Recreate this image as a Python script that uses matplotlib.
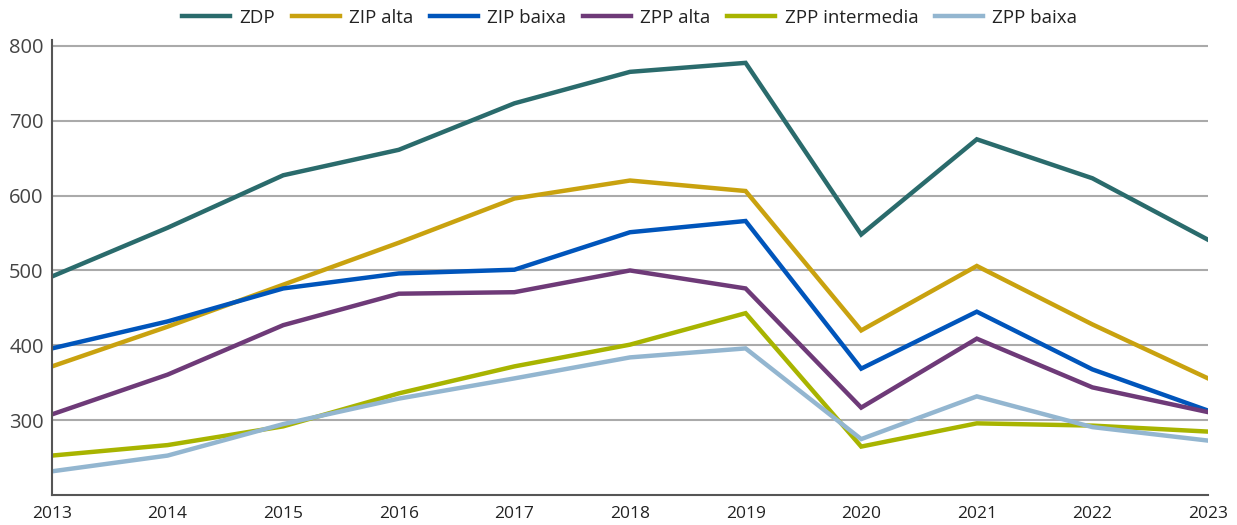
import matplotlib
matplotlib.use("Agg")
import matplotlib.pyplot as plt

years = [2013, 2014, 2015, 2016, 2017, 2018, 2019, 2020, 2021, 2022, 2023]
zdp = [492, 557, 627, 661, 723, 765, 777, 548, 675, 623, 541]
zip_alta = [372, 425, 481, 537, 596, 620, 606, 420, 506, 428, 356]
zip_baixa = [396, 432, 476, 496, 501, 551, 566, 369, 445, 368, 313]
zpp_alta = [308, 361, 427, 469, 471, 500, 476, 317, 409, 344, 311]
zpp_intermedia = [253, 267, 292, 336, 372, 401, 443, 265, 296, 293, 285]
zpp_baixa = [232, 253, 295, 329, 356, 384, 396, 275, 332, 291, 273]

labels = ["ZDP", "ZIP alta", "ZIP baixa", "ZPP alta", "ZPP intermedia", "ZPP baixa"]
series = [zdp, zip_alta, zip_baixa, zpp_alta, zpp_intermedia, zpp_baixa]
colors = ["#2a6b6c", "#c9a20f", "#0055bb", "#6e3a78", "#a8b400", "#93b6d0"]

plt.rcParams['font.family'] = ['Open Sans', 'DejaVu Sans']

fig = plt.figure(figsize=(12.37, 5.25), dpi=100)
ax = fig.add_axes([52/1237, (525-495.3)/525, (1208-52)/1237, (495.3-40)/525])

for lab, s, c in zip(labels, series, colors):
    ax.plot(years, s, color=c, lw=3.2, label=lab, solid_joinstyle='miter')

ax.set_xlim(2013, 2023)
ax.set_ylim(200, 807.5)
ax.set_yticks([300, 400, 500, 600, 700, 800])
ax.set_xticks(years)
ax.grid(axis='y', color='#aaaaaa', lw=1.5)
ax.set_axisbelow(True)
for sp in ['top', 'right']:
    ax.spines[sp].set_visible(False)
for sp in ['left', 'bottom']:
    ax.spines[sp].set_color('#555555')
    ax.spines[sp].set_linewidth(1.5)
ax.tick_params(axis='y', length=0, pad=6, labelsize=14.5, labelcolor='#444444')
ax.tick_params(axis='x', length=0, pad=8, labelsize=12.5, labelcolor='#222222')

leg = fig.legend(loc='upper center', bbox_to_anchor=(0.509, 1.015), ncol=6, frameon=False,
                 fontsize=13.5, handlelength=2.55, columnspacing=0.9, handletextpad=0.5)
for t in leg.get_texts():
    t.set_color('#222222')

fig.savefig("out.png", dpi=100)
